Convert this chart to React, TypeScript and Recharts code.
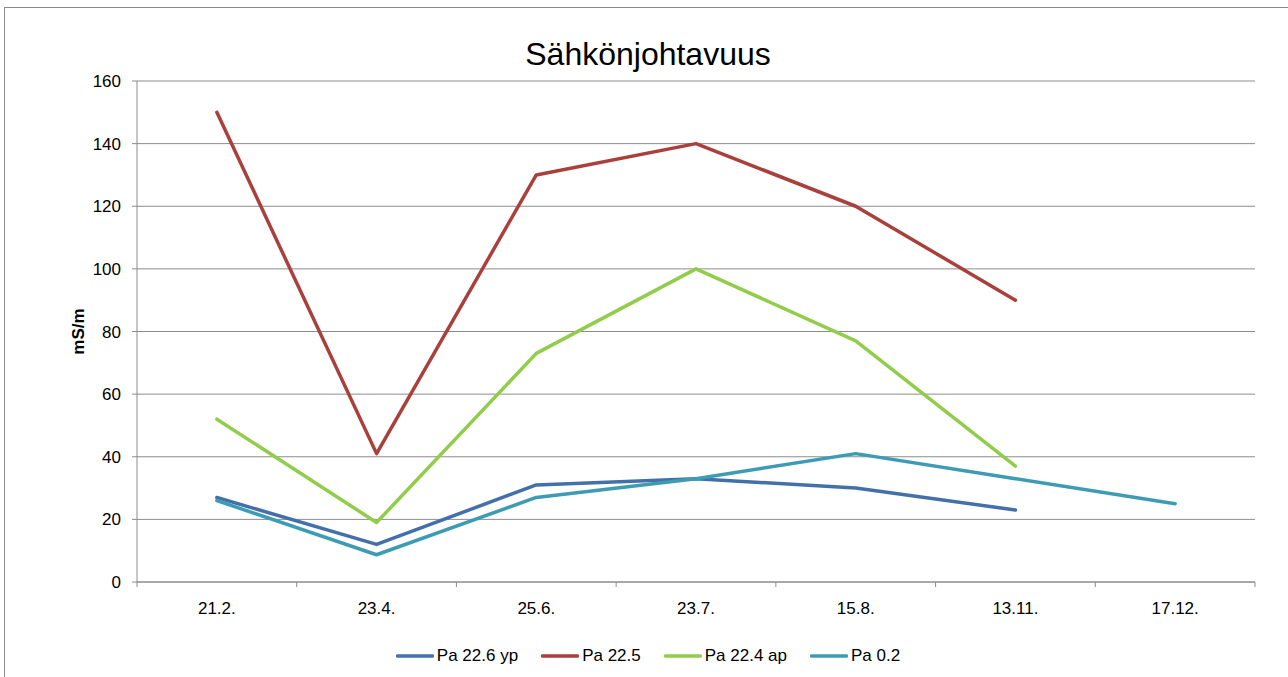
import React from 'react';
import { LineChart, Line, XAxis, YAxis, CartesianGrid, Legend } from 'recharts';

const categories = ['21.2.', '23.4.', '25.6.', '23.7.', '15.8.', '13.11.', '17.12.'];
const pa226yp = [27, 12, 31, 33, 30, 23, null];
const pa225 = [150, 41, 130, 140, 120, 90, null];
const pa224ap = [52, 19, 73, 100, 77, 37, null];
const pa02 = [26, 8.7, 27, 33, 41, 33, 25];
const yTicks = [0, 20, 40, 60, 80, 100, 120, 140, 160];

const seriesNames = ['Pa 22.6 yp', 'Pa 22.5', 'Pa 22.4 ap', 'Pa 0.2'];
const seriesColors = ['#4470A9', '#A9403C', '#91CC4A', '#3E9BB4'];

// category slots: each category occupies [i, i+1], its point sits at the slot centre
const data = categories.map((c, i) => ({
  date: c,
  x: i + 0.5,
  s0: pa226yp[i],
  s1: pa225[i],
  s2: pa224ap[i],
  s3: pa02[i],
}));
const centerTicks = categories.map((_, i) => i + 0.5);
const boundaryTicks = [0, ...categories.map((_, i) => i + 1)];

const FONT = '"Liberation Sans", Arial, sans-serif';

const LegendContent = () => (
  <div
    style={{
      display: 'flex',
      justifyContent: 'center',
      alignItems: 'center',
      fontFamily: FONT,
      fontSize: 17,
      color: '#000',
      height: 24,
    }}
  >
    {seriesNames.map((n, i) => (
      <div key={n} style={{ display: 'flex', alignItems: 'center', marginRight: i < 3 ? 23 : 0 }}>
        <svg width={38} height={6} style={{ display: 'block', marginRight: 3 }}>
          <line x1={1.5} y1={3} x2={36.5} y2={3} stroke={seriesColors[i]} strokeWidth={3.5} strokeLinecap="round" />
        </svg>
        <span>{n}</span>
      </div>
    ))}
  </div>
);

const YLabel = (props: any) => {
  const vb = props.viewBox || { x: 77, y: 81, width: 60, height: 501 };
  const x = vb.x + 7;
  const y = vb.y + vb.height / 2;
  return (
    <text
      x={x}
      y={y}
      transform={`rotate(-90, ${x}, ${y})`}
      textAnchor="middle"
      fontFamily={FONT}
      fontWeight="bold"
      fontSize={17}
      fill="#000"
    >
      mS/m
    </text>
  );
};

export default function App() {
  return (
    <div
      style={{
        position: 'fixed',
        left: 0,
        top: 0,
        width: 1288,
        height: 677,
        overflow: 'hidden',
        background: '#fff',
      }}
    >
      <div
        style={{
          position: 'absolute',
          left: 4,
          top: 7,
          width: 1400,
          height: 800,
          border: '1.5px solid #8a8a8a',
        }}
      />
      <div
        style={{
          position: 'absolute',
          left: 0,
          top: 36,
          width: 1296,
          textAlign: 'center',
          fontFamily: FONT,
          fontSize: 32,
          color: '#000',
          lineHeight: '36px',
        }}
      >
        Sähkönjohtavuus
      </div>
      <div style={{ position: 'absolute', left: 0, top: 0 }}>
        <LineChart
          width={1288}
          height={677}
          data={data}
          margin={{ top: 81, right: 33, bottom: 65, left: 77 }}
        >
          <CartesianGrid horizontal vertical={false} stroke="#8c8c8c" strokeWidth={1} />
          <XAxis
            xAxisId="b"
            type="number"
            dataKey="x"
            domain={[0, categories.length]}
            ticks={boundaryTicks}
            interval={0}
            tickFormatter={() => ''}
            height={1}
            tickSize={5}
            axisLine={{ stroke: '#8c8c8c' }}
            tickLine={{ stroke: '#8c8c8c' }}
          />
          <XAxis
            xAxisId="cat"
            type="number"
            dataKey="x"
            domain={[0, categories.length]}
            ticks={centerTicks}
            interval={0}
            tickFormatter={(v: number) => categories[Math.round(v - 0.5)] ?? ''}
            height={29}
            axisLine={false}
            tickLine={false}
            tickMargin={13}
            tick={{ fontFamily: FONT, fontSize: 17, fill: '#000' }}
          />
          <YAxis
            width={60}
            domain={[0, 160]}
            ticks={yTicks}
            interval={0}
            tickSize={5}
            tickMargin={11}
            axisLine={{ stroke: '#8c8c8c' }}
            tickLine={{ stroke: '#8c8c8c' }}
            tick={{ fontFamily: FONT, fontSize: 17, fill: '#000' }}
            label={<YLabel />}
          />
          {seriesNames.map((n, i) => (
            <Line
              key={n}
              xAxisId="cat"
              type="linear"
              dataKey={`s${i}`}
              name={n}
              stroke={seriesColors[i]}
              strokeWidth={3.5}
              strokeLinejoin="round"
              strokeLinecap="round"
              dot={false}
              activeDot={false}
              isAnimationActive={false}
            />
          ))}
          <Legend
            layout="horizontal"
            verticalAlign="middle"
            align="center"
            content={<LegendContent />}
            wrapperStyle={{ top: 644, left: 0, width: 1296 }}
          />
        </LineChart>
      </div>
    </div>
  );
}
